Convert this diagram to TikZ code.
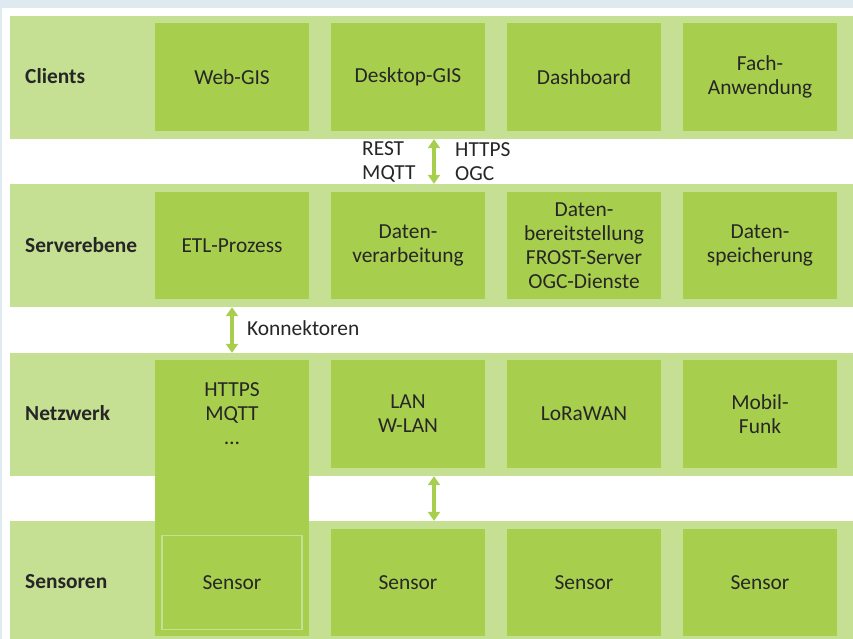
\documentclass[tikz,border=0pt]{standalone}
\usepackage{fontspec}
\setmainfont{Carlito}
\usetikzlibrary{arrows.meta,positioning}

\definecolor{lanegreen}{RGB}{197,223,147}
\definecolor{boxgreen}{RGB}{168,206,78}
\definecolor{framegray}{RGB}{222,233,240}
\definecolor{textgray}{RGB}{38,38,38}

\newcommand{\diagfont}{\fontsize{21.4}{24}\selectfont}

\tikzset{
  lane/.style={fill=lanegreen, minimum width=843pt, minimum height=123pt, inner sep=0pt},
  box/.style={fill=boxgreen, minimum width=154pt, minimum height=107.5pt, inner sep=0pt, align=center, text=textgray},
  tag/.style={anchor=west, font=\diagfont\bfseries, text=textgray, inner sep=0pt},
  note/.style={anchor=west, align=left, text=textgray, inner sep=0pt},
  link/.style={draw=boxgreen, line width=3.5pt, {Triangle[width=12pt,length=9pt]}-{Triangle[width=12pt,length=9pt]}}
}

\begin{document}
\begin{tikzpicture}[x=1pt,y=-1pt,node distance=168.5pt and 176pt,on grid,
                    font=\diagfont]
  \fill[framegray] (0,0) rectangle (853,639);
  \useasboundingbox (0,0) rectangle (853,639);
  \fill[white] (2,8) rectangle (853,639);

  % lanes
  \node[lane] (lclients) at (431.5,77.5)  {};
  \node[lane] (lserver)  at (431.5,245.5) {};
  \node[lane] (lnetz)    at (431.5,414.5) {};
  \node[lane] (lsensor)  at (431.5,582.5) {};

  \node[tag] (tclients) at (25,76)  {Clients};
  \node[tag] (tserver)  at (25,245) {Serverebene};
  \node[tag] (tnetz)    at (25,413) {Netzwerk};
  \node[tag] (tsensor)  at (25,582) {Sensoren};

  % clients
  \node[box] (webgis) at (232,77) {Web-GIS};
  \node[box] (desktop) [right=of webgis]  {Desktop-GIS};
  \node[box] (dash)    [right=of desktop] {Dashboard};
  \node[box] (fach)    [right=of dash]    {Fach-\\Anwendung};

  % serverebene
  \node[box] (etl)     [below=of webgis]  {ETL-Prozess};
  \node[box] (verarb)  [right=of etl]     {Daten-\\verarbeitung};
  \node[box] (bereit)  [right=of verarb]  {Daten-\\bereitstellung\\FROST-Server\\OGC-Dienste};
  \node[box] (speich)  [right=of bereit]  {Daten-\\speicherung};

  % netzwerk
  \node[box] (proto)   [below=of etl]     {HTTPS\\MQTT\\…};
  \node[box] (lan)     [right=of proto]   {LAN\\W-LAN};
  \node[box] (lora)    [right=of lan]     {LoRaWAN};
  \node[box] (mobil)   [right=of lora]    {Mobil-\\Funk};

  % sensoren
  \node[box] (sensa)   [below=of proto]   {Sensor};
  \node[box] (sensb)   [right=of sensa]   {Sensor};
  \node[box] (sensc)   [right=of sensb]   {Sensor};
  \node[box] (sensd)   [right=of sensc]   {Sensor};

  \fill[boxgreen] (proto.south west) rectangle (sensa.north east);
  \draw[lanegreen, line width=1.5pt] ([xshift=7pt,yshift=-7pt]sensa.north west)
    rectangle ([xshift=-7pt,yshift=7pt]sensa.south east);

  % connectors
  \coordinate (mid) at (434,0);
  \draw[link] (lclients.south -| mid) -- (lserver.north -| mid);
  \draw[link] (lserver.south -| etl) -- (lnetz.north -| etl);
  \draw[link] (lnetz.south -| mid) -- (lsensor.north -| mid);

  \node[note] (rest)  at (362,162) {REST\\MQTT};
  \node[note] (https) at (455,162) {HTTPS\\OGC};
  \node[note] (konn)  at (247,328) {Konnektoren};
\end{tikzpicture}
\end{document}
